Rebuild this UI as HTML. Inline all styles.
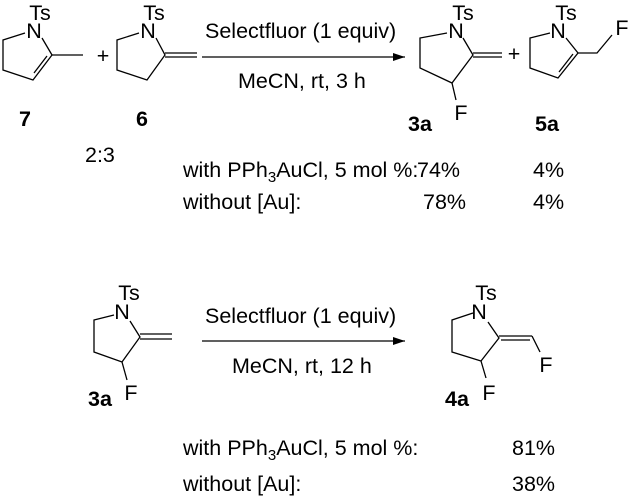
<!DOCTYPE html>
<html><head><style>
html,body{margin:0;padding:0;background:#fff;}
svg{display:block;}
text{font-family:"Liberation Sans",Arial,sans-serif;font-size:21.5px;fill:#000;}
.b{font-weight:bold;}
</style></head><body>
<svg width="633" height="500" viewBox="0 0 633 500" xmlns="http://www.w3.org/2000/svg">
<defs><marker id="ah" markerWidth="12" markerHeight="8" refX="12" refY="4" orient="auto" markerUnits="userSpaceOnUse"><path d="M0,0 L12,4 L0,8 Z" fill="#000"/></marker></defs>
<g stroke="#000" stroke-width="1.3" fill="none">
<polyline points="25,33 3,40 3,70 33,80 52,55 42,38"/>
<line x1="34" y1="73" x2="47" y2="56"/>
<line x1="52" y1="55" x2="83" y2="55"/>
<polyline points="139,33 117,40 117,70 147,80 165,55 156,38"/>
<line x1="165" y1="53" x2="197" y2="53"/><line x1="165" y1="57" x2="197" y2="57"/>
<line x1="202" y1="57" x2="405" y2="57" marker-end="url(#ah)"/>
<polyline points="447,33 420,38 420,68 452,83 473,55 463,38"/>
<line x1="473" y1="53" x2="502" y2="53"/><line x1="473" y1="57" x2="502" y2="57"/>
<line x1="452" y1="83" x2="456" y2="100"/>
<polyline points="550,33 530,38 530,68 558,78 578,53 566,38"/>
<line x1="559" y1="72" x2="573" y2="54"/>
<polyline points="578,53 597,53 612,35"/>
<polyline points="114,315 94,320 94,352 122,362 140,337 130,321"/>
<line x1="140" y1="334" x2="172" y2="334"/><line x1="140" y1="339" x2="172" y2="339"/>
<line x1="122" y1="362" x2="127" y2="380"/>
<line x1="202" y1="341" x2="405" y2="341" marker-end="url(#ah)"/>
<polyline points="473,313 452,320 452,352 481,361 499,338 488,322"/>
<line x1="499" y1="336" x2="532" y2="336"/><line x1="501" y1="340" x2="530" y2="340"/>
<line x1="532" y1="336" x2="540" y2="352"/>
<line x1="481" y1="361" x2="486" y2="378"/>
</g>
<g>
<text x="40" y="20" text-anchor="middle">Ts</text><text x="34" y="38" text-anchor="middle">N</text>
<text x="103" y="63" text-anchor="middle">+</text>
<text x="154" y="20" text-anchor="middle">Ts</text><text x="148" y="38" text-anchor="middle">N</text>
<text x="25" y="126" text-anchor="middle" class="b">7</text>
<text x="142" y="126" text-anchor="middle" class="b">6</text>
<text x="205" y="38">Selectfluor (1 equiv)</text>
<text x="238" y="88">MeCN, rt, 3 h</text>
<text x="463" y="20" text-anchor="middle">Ts</text><text x="456" y="38" text-anchor="middle">N</text>
<text x="461" y="120" text-anchor="middle">F</text>
<text x="420" y="131" text-anchor="middle" class="b">3a</text>
<text x="514" y="61" text-anchor="middle">+</text>
<text x="566" y="20" text-anchor="middle">Ts</text><text x="558" y="38" text-anchor="middle">N</text>
<text x="622" y="35" text-anchor="middle">F</text>
<text x="547" y="131" text-anchor="middle" class="b">5a</text>
<text x="85" y="162">2:3</text>
<text x="183" y="177">with PPh<tspan font-size="15" dy="5">3</tspan><tspan dy="-5">AuCl, 5 mol %:</tspan></text>
<text x="417" y="177">74%</text><text x="533" y="177">4%</text>
<text x="183" y="209">without [Au]:</text>
<text x="423" y="209">78%</text><text x="533" y="209">4%</text>
<text x="129" y="300" text-anchor="middle">Ts</text><text x="122" y="319" text-anchor="middle">N</text>
<text x="131" y="400" text-anchor="middle">F</text>
<text x="100" y="406" text-anchor="middle" class="b">3a</text>
<text x="205" y="323">Selectfluor (1 equiv)</text>
<text x="232" y="373">MeCN, rt, 12 h</text>
<text x="486" y="300" text-anchor="middle">Ts</text><text x="479" y="319" text-anchor="middle">N</text>
<text x="546" y="372" text-anchor="middle">F</text>
<text x="489" y="400" text-anchor="middle">F</text>
<text x="457" y="406" text-anchor="middle" class="b">4a</text>
<text x="183" y="455">with PPh<tspan font-size="15" dy="5">3</tspan><tspan dy="-5">AuCl, 5 mol %:</tspan></text>
<text x="512" y="455">81%</text>
<text x="183" y="491">without [Au]:</text>
<text x="512" y="491">38%</text>
</g>
</svg>
</body></html>
